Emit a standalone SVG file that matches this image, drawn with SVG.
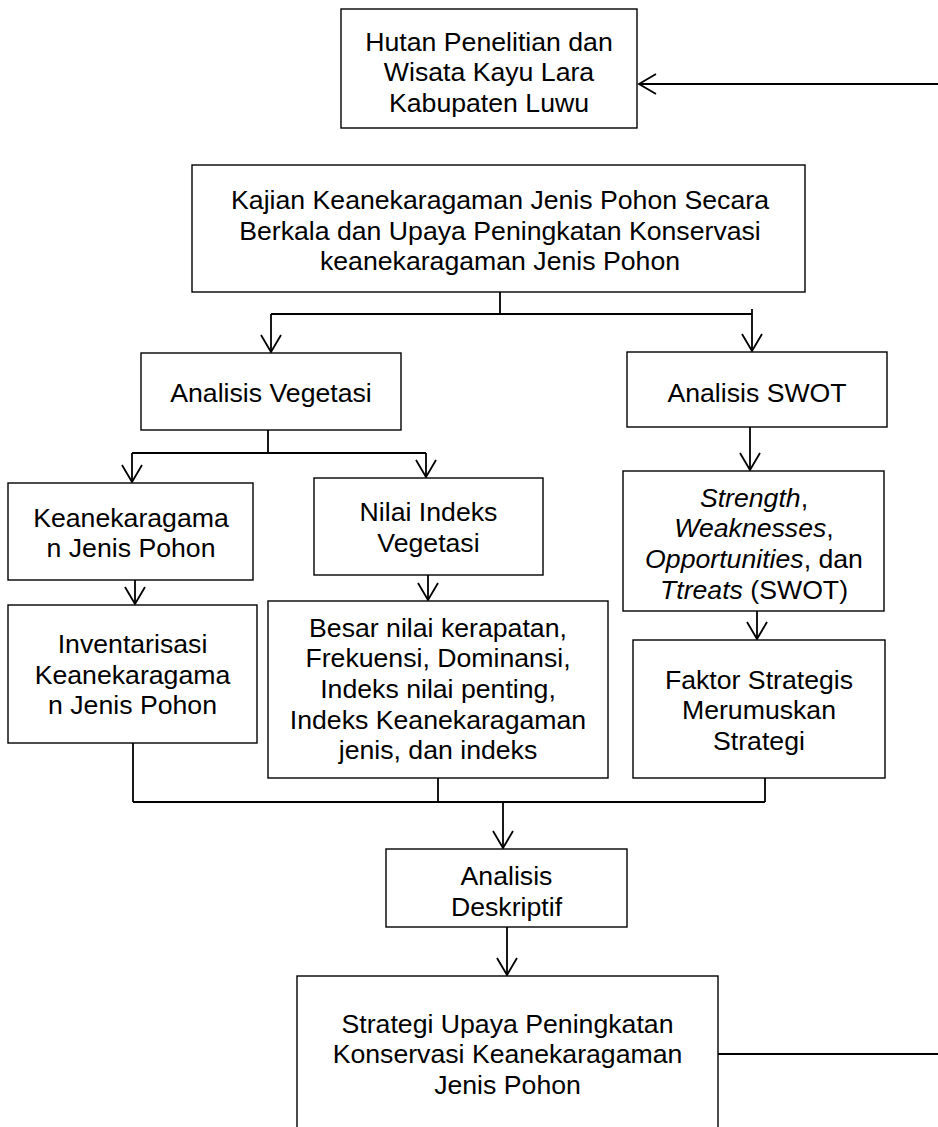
<svg xmlns="http://www.w3.org/2000/svg" width="938" height="1127" viewBox="0 0 938 1127">
<style>
.box{fill:#fff;stroke:#000;stroke-width:1.4}
.t{font-family:"Liberation Sans",Arial,sans-serif;font-size:26.67px;fill:#000;text-anchor:middle}
.i{font-style:italic}
.c{fill:none;stroke:#000;stroke-width:1.8}
</style>
<defs>
<marker id="arr" markerUnits="userSpaceOnUse" markerWidth="24" markerHeight="26" viewBox="-20 -13 22 26" refX="0" refY="0" orient="auto" overflow="visible">
<path d="M-17,-10 L0,0 L-17,10" fill="none" stroke="#000" stroke-width="1.8"/>
</marker>
</defs>
<rect width="938" height="1127" fill="#fff"/>
<g id="connectors">
<path class="c" d="M938,84 H639" marker-end="url(#arr)"/>
<path class="c" d="M500,292 V314 M271,314 H752"/>
<path class="c" d="M271,314 V352" marker-end="url(#arr)"/>
<path class="c" d="M752,309 V351" marker-end="url(#arr)"/>
<path class="c" d="M268,430 V453 M132,453 H426"/>
<path class="c" d="M132,453 V482" marker-end="url(#arr)"/>
<path class="c" d="M426,453 V477" marker-end="url(#arr)"/>
<path class="c" d="M135,580 V604" marker-end="url(#arr)"/>
<path class="c" d="M428,575 V600" marker-end="url(#arr)"/>
<path class="c" d="M750,427 V470" marker-end="url(#arr)"/>
<path class="c" d="M757,611 V639" marker-end="url(#arr)"/>
<path class="c" d="M133,743 V802 M438,778 V802 M765,778 V802 M133,802 H765"/>
<path class="c" d="M503,802 V848" marker-end="url(#arr)"/>
<path class="c" d="M507,927 V975" marker-end="url(#arr)"/>
<path class="c" d="M718,1054 H938"/>
</g>
<g id="n1">
<rect class="box" x="341" y="9" width="296" height="119"/>
<text class="t" x="489" y="50.5">Hutan Penelitian dan</text>
<text class="t" x="489" y="81">Wisata Kayu Lara</text>
<text class="t" x="489" y="111.5">Kabupaten Luwu</text>
</g>
<g id="n2">
<rect class="box" x="192" y="165" width="613" height="127"/>
<text class="t" x="500" y="209">Kajian Keanekaragaman Jenis Pohon Secara</text>
<text class="t" x="500" y="239.5">Berkala dan Upaya Peningkatan Konservasi</text>
<text class="t" x="500" y="270">keanekaragaman Jenis Pohon</text>
</g>
<g id="n3">
<rect class="box" x="141" y="353" width="260" height="77"/>
<text class="t" x="271" y="402">Analisis Vegetasi</text>
</g>
<g id="n4">
<rect class="box" x="627" y="352" width="260" height="75"/>
<text class="t" x="757" y="402">Analisis SWOT</text>
</g>
<g id="n5">
<rect class="box" x="8" y="483" width="245" height="97"/>
<text class="t" x="131" y="526.5">Keanekaragama</text>
<text class="t" x="131" y="557">n Jenis Pohon</text>
</g>
<g id="n6">
<rect class="box" x="314" y="478" width="229" height="97"/>
<text class="t" x="428.5" y="521">Nilai Indeks</text>
<text class="t" x="428.5" y="551.5">Vegetasi</text>
</g>
<g id="n7">
<rect class="box" x="623" y="471" width="261" height="140"/>
<text class="t" x="754" y="506.5"><tspan class="i">Strength</tspan>,</text>
<text class="t" x="754" y="537.2"><tspan class="i">Weaknesses</tspan>,</text>
<text class="t" x="754" y="567.9"><tspan class="i">Opportunities</tspan>, dan</text>
<text class="t" x="754" y="598.6"><tspan class="i">Ttreats</tspan> (SWOT)</text>
</g>
<g id="n8">
<rect class="box" x="8" y="605" width="249" height="138"/>
<text class="t" x="132.5" y="653">Inventarisasi</text>
<text class="t" x="132.5" y="683.7">Keanekaragama</text>
<text class="t" x="132.5" y="714.4">n Jenis Pohon</text>
</g>
<g id="n9">
<rect class="box" x="268" y="601" width="340" height="177"/>
<text class="t" x="438" y="636.5">Besar nilai kerapatan,</text>
<text class="t" x="438" y="667.2">Frekuensi, Dominansi,</text>
<text class="t" x="438" y="697.9">Indeks nilai penting,</text>
<text class="t" x="438" y="728.6">Indeks Keanekaragaman</text>
<text class="t" x="438" y="759.3">jenis, dan indeks</text>
</g>
<g id="n10">
<rect class="box" x="633" y="640" width="252" height="138"/>
<text class="t" x="759" y="688.5">Faktor Strategis</text>
<text class="t" x="759" y="719.2">Merumuskan</text>
<text class="t" x="759" y="749.9">Strategi</text>
</g>
<g id="n11">
<rect class="box" x="386" y="849" width="241" height="78"/>
<text class="t" x="506.5" y="885">Analisis</text>
<text class="t" x="506.5" y="915.7">Deskriptif</text>
</g>
<g id="n12">
<rect class="box" x="297" y="976" width="421" height="170"/>
<text class="t" x="507.5" y="1032.5">Strategi Upaya Peningkatan</text>
<text class="t" x="507.5" y="1063.2">Konservasi Keanekaragaman</text>
<text class="t" x="507.5" y="1093.9">Jenis Pohon</text>
</g>
</svg>
